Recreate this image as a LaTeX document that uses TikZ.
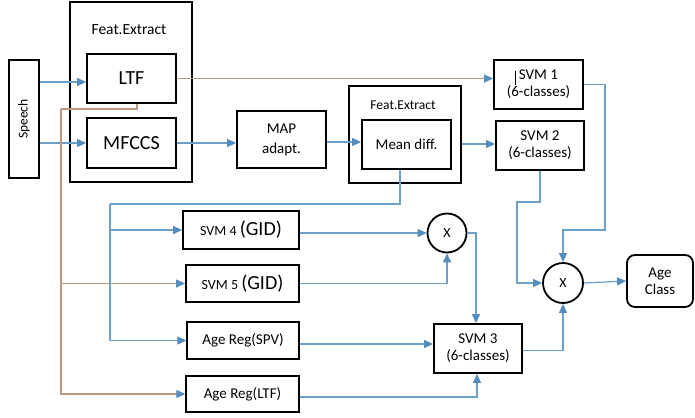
\documentclass[tikz,border=0pt]{standalone}
\usepackage{fontspec}
\setmainfont{Carlito}
\usetikzlibrary{arrows.meta,calc}
\definecolor{lineblue}{RGB}{108,160,200}
\definecolor{tipblue}{RGB}{84,140,190}
\definecolor{linebrown}{RGB}{190,150,128}
\tikzset{
  blk/.style={draw=black,line width=1.8pt,fill=white,inner sep=1pt,align=center,font=\fontsize{15}{17}\selectfont},
  outerbox/.style={draw=black,line width=2pt},
  mult/.style={draw=black,line width=1.8pt,circle,minimum size=39pt,inner sep=0pt,font=\fontsize{14}{16}\selectfont},
  blueflow/.style={draw=lineblue,line width=1.2pt,-{Triangle[length=9pt,width=8pt,color=tipblue]}},
  brownflow/.style={draw=linebrown,line width=1.2pt,-{Triangle[length=9pt,width=8pt,color=tipblue]}},
  blueline/.style={draw=lineblue,line width=1.2pt},
  brownline/.style={draw=linebrown,line width=1.2pt},
}
\begin{document}
\begin{tikzpicture}[x=1pt,y=-1pt]
\useasboundingbox (0,0) rectangle (695,417);

% front end: speech and first feature extraction
\node[blk,minimum width=30pt,minimum height=118pt] (speech) at (24,119) {};
\node[rotate=90,font=\fontsize{13.5}{15}\selectfont] (speechtxt) at (speech) {Speech};
\node[outerbox,minimum width=122pt,minimum height=180pt] (fe1) at (131,92) {};
\node[font=\fontsize{15.5}{17}\selectfont] (fe1lbl) at (129,30) {Feat.Extract};
\node[blk,minimum width=89pt,minimum height=49pt,font=\fontsize{20}{22}\selectfont] (ltf) at (131.5,78.5) {LTF};
\node[blk,minimum width=89pt,minimum height=50pt,font=\fontsize{20}{22}\selectfont] (mfcc) at (131.5,143) {MFCCS};

% MAP adaptation and second feature extraction
\node[blk,minimum width=89pt,minimum height=57pt] (map) at (281.5,139.5) {MAP\\[3pt]adapt.};
\node[outerbox,minimum width=112pt,minimum height=97pt] (fe2) at (405,134.5) {};
\node[font=\fontsize{13.5}{15}\selectfont] (fe2lbl) at (403,105) {Feat.Extract};
\node[blk,minimum width=89pt,minimum height=49pt] (mean) at (406.5,144.5) {Mean diff.};

% classifiers
\node[blk,minimum width=89pt,minimum height=49pt] (svm1) at (538.5,84.5) {SVM 1\\(6-classes)};
\node[blk,minimum width=88pt,minimum height=49pt] (svm2) at (540,145.5) {SVM 2\\(6-classes)};
\node[blk,minimum width=116pt,minimum height=38pt,font=\fontsize{14}{16}\selectfont] (svm4) at (241,230) {SVM 4 {\fontsize{20}{22}\selectfont(GID)}};
\node[blk,minimum width=113pt,minimum height=37pt,font=\fontsize{14}{16}\selectfont] (svm5) at (242.5,283.5) {SVM 5 {\fontsize{20}{22}\selectfont(GID)}};
\node[blk,line width=1.4pt,minimum width=112pt,minimum height=37pt] (spv) at (243,340.5) {Age Reg(SPV)};
\node[blk,line width=1.4pt,minimum width=113pt,minimum height=36pt] (altf) at (242.5,394) {Age Reg(LTF)};
\node[mult] (x1) at (447,233) {X};
\node[blk,minimum width=88pt,minimum height=49pt] (svm3) at (478,348.5) {SVM 3\\(6-classes)};
\node[mult,minimum size=40pt] (x2) at (563,283) {X};
\node[blk,rounded corners=8pt,minimum width=66pt,minimum height=52pt] (age) at (660,281) {Age\\Class};

% small caret mark inside the SVM 1 box
\draw[black,line width=0.7pt] (515,71) -- (515,85);

% speech into the feature extractors
\draw[blueflow] (speech.east |- 0,82) -- (ltf.west |- 0,82);
\draw[blueflow] (speech.east |- mfcc) -- (mfcc.west);

% LTF feature paths
\draw[brownflow] (ltf.east) -- (ltf.east -| svm1.west);
\draw[brownline] ([xshift=5.5pt]ltf.south) |- (61,109);
\coordinate (brownbus) at (61,109);
\draw[brownflow] (brownbus) |- (altf.west);
\draw[brownflow] (svm5.west -| brownbus) -- (svm5.west);

% MFCC / MAP / mean-difference chain
\draw[blueflow] (mfcc.east) -- (mfcc.east -| map.west);
\draw[blueflow] (map.east |- 0,142) -- (mean.west |- 0,142);
\draw[blueflow] (fe2.east |- 0,144) -- (svm2.west |- 0,144);
\coordinate (bluebus) at (110,204);
\draw[blueline] ([xshift=-6.5pt]mean.south) |- (bluebus);
\draw[blueflow] (bluebus) |- (spv.west);
\draw[blueflow] (svm4.west -| bluebus) -- (svm4.west);

% gender identification and age regression fusion
\draw[blueflow] (svm4.east |- x1) -- (x1.west);
\draw[blueflow] (svm5.east) -| (x1.south);
\draw[blueflow] (x1.east) -| ([xshift=-2pt]svm3.north);
\draw[blueflow] (spv.east |- 0,344) -- (svm3.west |- 0,344);
\draw[blueflow] (altf.east |- 0,397) -| ([xshift=-1pt]svm3.south);

% final fusion
\coordinate (svm2turn) at (517,202);
\coordinate (svm1turn) at (605,230);
\draw[blueflow] (svm2.south) |- (svm2turn) |- (x2.west);
\draw[blueflow] (svm1.east) -| (svm1turn) -| (x2.north);
\draw[blueflow] ([yshift=-2pt]svm3.east) -| (x2.south);
\draw[blueflow] (x2.east) -- (age.west);
\end{tikzpicture}
\end{document}
